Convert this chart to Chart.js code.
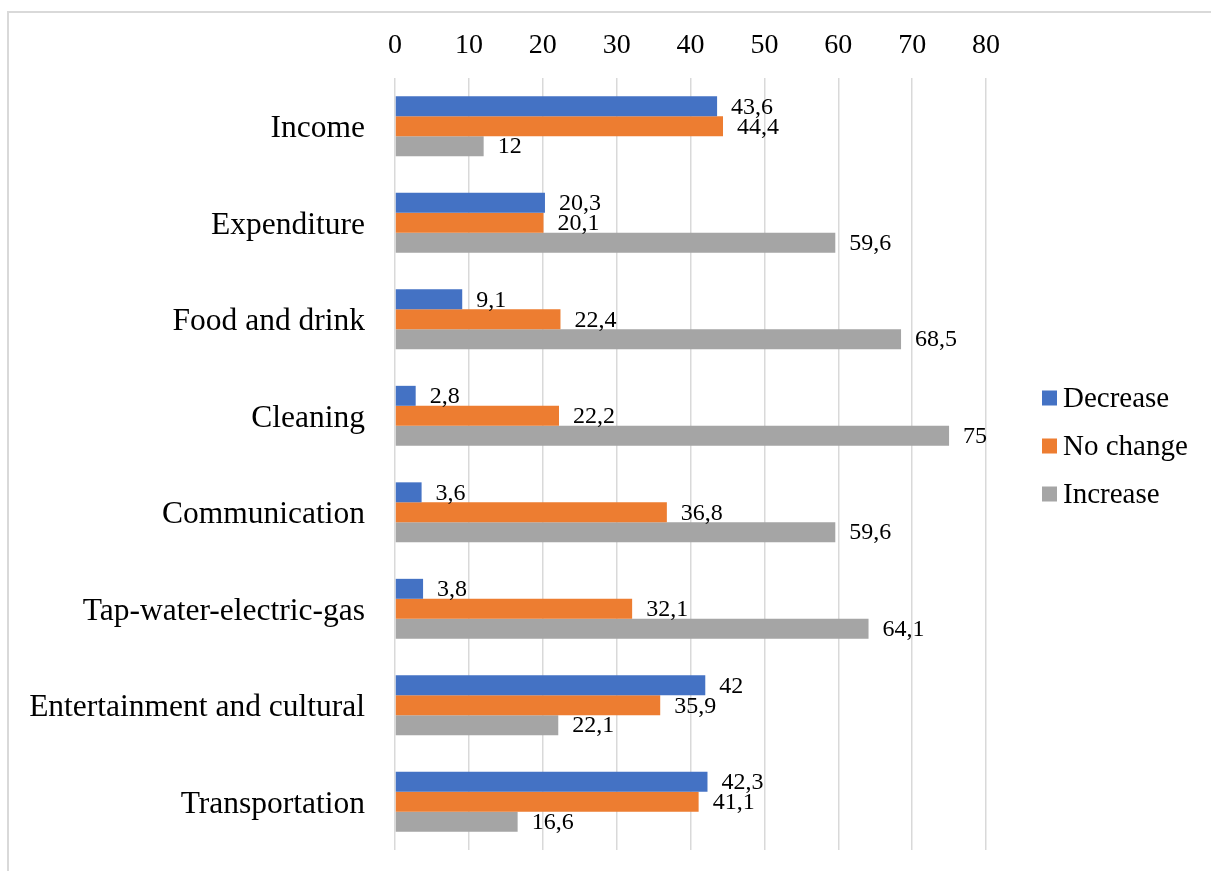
<!DOCTYPE html>
<html>
<head>
<meta charset="utf-8">
<script src="https://cdn.jsdelivr.net/npm/chart.js@4/dist/chart.umd.min.js"></script>
<style>
  html, body { margin: 0; padding: 0; background: #fff; overflow: hidden; }
  #frame {
    position: absolute; left: 7px; top: 11px; width: 1240px; height: 900px;
    border: 2px solid #d9d9d9; box-sizing: border-box;
  }
  #wrap { position: absolute; left: 0; top: 0; width: 1211px; height: 871px; }
</style>
</head>
<body>
<div id="frame"></div>
<div id="wrap"><canvas id="chart" width="1211" height="871"></canvas></div>
<script>
// categories and series, top to bottom
const categories = [
  'Income',
  'Expenditure',
  'Food and drink',
  'Cleaning',
  'Communication',
  'Tap-water-electric-gas',
  'Entertainment and cultural',
  'Transportation'
];
const decreaseValues = [43.6, 20.3, 9.1, 2.8, 3.6, 3.8, 42, 42.3];
const noChangeValues = [44.4, 20.1, 22.4, 22.2, 36.8, 32.1, 35.9, 41.1];
const increaseValues = [12, 59.6, 68.5, 75, 59.6, 64.1, 22.1, 16.6];
const xTicks = [0, 10, 20, 30, 40, 50, 60, 70, 80];

const SERIF = '"Liberation Serif", "Times New Roman", serif';
const colors = { decrease: '#4472C4', noChange: '#ED7D31', increase: '#A5A5A5' };

// value labels just past the end of each bar, decimal comma
const barLabels = {
  id: 'barLabels',
  afterDatasetsDraw(chart) {
    const ctx = chart.ctx;
    ctx.save();
    ctx.font = '24px ' + SERIF;
    ctx.fillStyle = '#000';
    ctx.textAlign = 'left';
    ctx.textBaseline = 'middle';
    chart.data.datasets.forEach((ds, di) => {
      const meta = chart.getDatasetMeta(di);
      meta.data.forEach((bar, i) => {
        const txt = String(ds.data[i]).replace('.', ',');
        ctx.fillText(txt, bar.x + 14, bar.y + 1);
      });
    });
    ctx.restore();
  }
};

// legend on the right: square swatch + label
const sideLegend = {
  id: 'sideLegend',
  afterDraw(chart) {
    const ctx = chart.ctx;
    const area = chart.chartArea;
    const x = area.right + 56;
    const midY = (area.top + area.bottom) / 2 - 18;
    const rowGap = 48;
    ctx.save();
    ctx.font = '29px ' + SERIF;
    ctx.textAlign = 'left';
    ctx.textBaseline = 'middle';
    chart.data.datasets.forEach((ds, i) => {
      const cy = midY + (i - 1) * rowGap;
      ctx.fillStyle = ds.backgroundColor;
      ctx.fillRect(x, cy - 7.5, 15, 15);
      ctx.fillStyle = '#000';
      ctx.fillText(ds.label, x + 21, cy + 1);
    });
    ctx.restore();
  }
};

new Chart(document.getElementById('chart'), {
  type: 'bar',
  data: {
    labels: categories,
    datasets: [
      { label: 'Decrease', data: decreaseValues, backgroundColor: colors.decrease },
      { label: 'No change', data: noChangeValues, backgroundColor: colors.noChange },
      { label: 'Increase', data: increaseValues, backgroundColor: colors.increase }
    ]
  },
  options: {
    indexAxis: 'y',
    responsive: false,
    animation: false,
    devicePixelRatio: 1,
    categoryPercentage: 0.62,
    barPercentage: 1.0,
    layout: { padding: { left: 0, top: 0, right: 225, bottom: 21 } },
    plugins: {
      legend: { display: false },
      tooltip: { enabled: false }
    },
    scales: {
      x: {
        position: 'top',
        min: 0,
        max: 80,
        afterBuildTicks: (scale) => { scale.ticks = xTicks.map(v => ({ value: v })); },
        afterFit: (scale) => {
          scale.height = 78;
          scale.paddingLeft = 0;
          scale.paddingRight = 0;
        },
        ticks: {
          color: '#000',
          padding: 16,
          font: { family: SERIF, size: 28 }
        },
        grid: { color: '#d9d9d9', lineWidth: 1.5, drawTicks: false },
        border: { display: false }
      },
      y: {
        afterFit: (scale) => {
          scale.width = 395;
          scale.paddingTop = 0;
          scale.paddingBottom = 0;
        },
        ticks: {
          color: '#000',
          padding: 22,
          labelOffset: 2.5,
          font: { family: SERIF, size: 31.5 }
        },
        grid: { display: false },
        border: { display: false }
      }
    }
  },
  plugins: [barLabels, sideLegend]
});
</script>
</body>
</html>
